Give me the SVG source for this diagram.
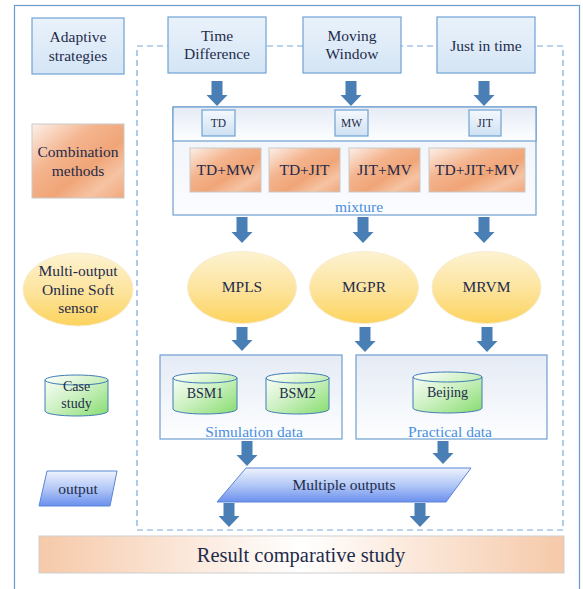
<svg xmlns="http://www.w3.org/2000/svg" width="583" height="589" viewBox="0 0 583 589">
  <defs>
    <linearGradient id="gBlue" x1="0" y1="0" x2="0" y2="1">
      <stop offset="0" stop-color="#eaf2fb"/>
      <stop offset="1" stop-color="#d4e5f5"/>
    </linearGradient>
    <linearGradient id="gTag" x1="0" y1="0" x2="0" y2="1">
      <stop offset="0" stop-color="#f4f8fd"/>
      <stop offset="1" stop-color="#cfe1f3"/>
    </linearGradient>
    <linearGradient id="gOrange" x1="0" y1="0" x2="1" y2="1">
      <stop offset="0" stop-color="#fcf0e8"/>
      <stop offset="0.35" stop-color="#f4b48e"/>
      <stop offset="0.6" stop-color="#f0a577"/>
      <stop offset="0.8" stop-color="#f6c3a3"/>
      <stop offset="1" stop-color="#f1a87c"/>
    </linearGradient>
    <linearGradient id="gYellow" x1="0" y1="0" x2="0" y2="1">
      <stop offset="0" stop-color="#fdf3d2"/>
      <stop offset="0.55" stop-color="#fde39a"/>
      <stop offset="1" stop-color="#fcd35c"/>
    </linearGradient>
    <linearGradient id="gGreen" x1="0" y1="0" x2="1" y2="1">
      <stop offset="0" stop-color="#ffffff"/>
      <stop offset="0.5" stop-color="#cbf0c0"/>
      <stop offset="1" stop-color="#86dc6e"/>
    </linearGradient>
    <linearGradient id="gPanel" x1="0" y1="0" x2="0" y2="1">
      <stop offset="0" stop-color="#e5ebf5"/>
      <stop offset="1" stop-color="#fdfeff"/>
    </linearGradient>
    <linearGradient id="gPanelLow" x1="0" y1="0" x2="0" y2="1">
      <stop offset="0" stop-color="#eef2f9"/>
      <stop offset="1" stop-color="#fbfcfe"/>
    </linearGradient>
    <linearGradient id="gPara" x1="0" y1="0" x2="0" y2="1">
      <stop offset="0" stop-color="#eef3fd"/>
      <stop offset="0.5" stop-color="#b3c8f6"/>
      <stop offset="1" stop-color="#6b90ee"/>
    </linearGradient>
    <linearGradient id="gResult" x1="0" y1="0" x2="1" y2="0">
      <stop offset="0" stop-color="#f6c9a9"/>
      <stop offset="0.5" stop-color="#ffffff"/>
      <stop offset="1" stop-color="#f6c9a9"/>
    </linearGradient>
    <style>
      text { font-family: "Liberation Serif", "Times New Roman", serif; fill: #1f2b4a; text-anchor: middle; }
      .blue { fill: url(#gBlue); stroke: #6ea2d4; stroke-width: 1.2; }
      .tag { fill: url(#gTag); stroke: #6ea2d4; stroke-width: 1.2; }
      .orange { fill: url(#gOrange); stroke: #c9c9c9; stroke-width: 1; }
      .yellow { fill: url(#gYellow); stroke: #f7ecd0; stroke-width: 1; }
      .cyl { fill: url(#gGreen); stroke: #3f7cb3; stroke-width: 1; }
      .panel { fill: url(#gPanel); stroke: #6f9fcf; stroke-width: 1.2; }
      .arrow { fill: #4a7fb5; }
      .lbl { fill: #4a8fe0; }
      .f15 { font-size: 15.5px; }
      .f14 { font-size: 14px; }
      .f11 { font-size: 11.5px; }
    </style>
  </defs>

  <rect width="583" height="589" fill="#ffffff"/>

  <!-- outer frame and dashed process boundary -->
  <rect x="14.5" y="5.5" width="565" height="600" fill="none" stroke="#6a9bd0" stroke-width="1.2"/>
  <rect x="137" y="46" width="426" height="484" fill="none" stroke="#7aa9d8" stroke-width="1.2" stroke-dasharray="6 4"/>

  <!-- left legend column -->
  <g id="adaptive-strategies">
    <rect class="blue" x="32" y="18" width="92" height="56"/>
    <text class="f15" x="78" y="42">Adaptive</text>
    <text class="f15" x="78" y="61">strategies</text>
  </g>
  <g id="combination-methods">
    <rect class="orange" x="32" y="124" width="92" height="74"/>
    <text class="f15" x="78" y="157">Combination</text>
    <text class="f15" x="78" y="176">methods</text>
  </g>
  <g id="multi-output-sensor">
    <ellipse class="yellow" cx="78" cy="289.5" rx="55" ry="36.5"/>
    <text class="f15" x="78" y="276">Multi-output</text>
    <text class="f15" x="78" y="295">Online Soft</text>
    <text class="f15" x="78" y="313">sensor</text>
  </g>
  <g id="case-study">
    <path class="cyl" d="M45 380 A31.5 5 0 0 1 108 380 L108 411 A31.5 5 0 0 1 45 411 Z"/>
    <path d="M45 380 A31.5 5 0 0 0 108 380" fill="none" stroke="#3f7cb3" stroke-width="1"/>
    <text class="f14" x="76.5" y="391">Case</text>
    <text class="f14" x="76.5" y="408">study</text>
  </g>
  <g id="output-legend">
    <polygon points="47,471 117,471 110,506 39,506" fill="url(#gPara)" stroke="#5b86d6" stroke-width="1"/>
    <text class="f15" x="78" y="494">output</text>
  </g>

  <!-- adaptive strategies -->
  <g id="time-difference">
    <rect class="blue" x="168" y="17" width="98" height="56"/>
    <text class="f15" x="217" y="41">Time</text>
    <text class="f15" x="217" y="59">Difference</text>
  </g>
  <g id="moving-window">
    <rect class="blue" x="303" y="17" width="98" height="56"/>
    <text class="f15" x="352" y="41">Moving</text>
    <text class="f15" x="352" y="59">Window</text>
  </g>
  <g id="just-in-time">
    <rect class="blue" x="437" y="17" width="98" height="56"/>
    <text class="f15" x="486" y="51">Just in time</text>
  </g>

  <!-- combination panel -->
  <g id="combination-panel">
    <rect x="173" y="107" width="363" height="108" fill="url(#gPanelLow)" stroke="#6f9fcf" stroke-width="1.2"/>
    <rect x="173" y="107" width="363" height="34" fill="url(#gPanel)" stroke="#6f9fcf" stroke-width="1.2"/>
    <text class="f15 lbl" x="359" y="212">mixture</text>
  </g>
  <g id="tag-td">
    <rect class="tag" x="202" y="110" width="33" height="26"/>
    <text class="f11" x="218.5" y="127">TD</text>
  </g>
  <g id="tag-mw">
    <rect class="tag" x="335" y="110" width="33" height="26"/>
    <text class="f11" x="351.5" y="127">MW</text>
  </g>
  <g id="tag-jit">
    <rect class="tag" x="469" y="110" width="32" height="26"/>
    <text class="f11" x="485" y="127">JIT</text>
  </g>
  <g id="td-mw">
    <rect class="orange" x="190" y="148" width="71" height="44"/>
    <text class="f15" x="225.5" y="175">TD+MW</text>
  </g>
  <g id="td-jit">
    <rect class="orange" x="269" y="148" width="71" height="44"/>
    <text class="f15" x="304.5" y="175">TD+JIT</text>
  </g>
  <g id="jit-mv">
    <rect class="orange" x="349" y="148" width="71" height="44"/>
    <text class="f15" x="384.5" y="175">JIT+MV</text>
  </g>
  <g id="td-jit-mv">
    <rect class="orange" x="429" y="148" width="96" height="44"/>
    <text class="f15" x="477" y="175">TD+JIT+MV</text>
  </g>

  <!-- soft sensor models -->
  <g id="mpls">
    <ellipse class="yellow" cx="242" cy="287.5" rx="54.5" ry="36"/>
    <text class="f15" x="242" y="292">MPLS</text>
  </g>
  <g id="mgpr">
    <ellipse class="yellow" cx="364" cy="287.5" rx="54.5" ry="36"/>
    <text class="f15" x="364" y="292">MGPR</text>
  </g>
  <g id="mrvm">
    <ellipse class="yellow" cx="486.5" cy="287.5" rx="54.5" ry="36"/>
    <text class="f15" x="486.5" y="292">MRVM</text>
  </g>

  <!-- data sets -->
  <g id="simulation-data">
    <rect class="panel" x="160" y="355" width="182" height="84"/>
    <text class="f15 lbl" x="254" y="437">Simulation data</text>
  </g>
  <g id="bsm1">
    <path class="cyl" d="M173 378 A32 5 0 0 1 237 378 L237 409 A32 5 0 0 1 173 409 Z"/>
    <path d="M173 378 A32 5 0 0 0 237 378" fill="none" stroke="#3f7cb3" stroke-width="1"/>
    <text class="f14" x="205" y="398">BSM1</text>
  </g>
  <g id="bsm2">
    <path class="cyl" d="M266 378 A31.5 5 0 0 1 329 378 L329 409 A31.5 5 0 0 1 266 409 Z"/>
    <path d="M266 378 A31.5 5 0 0 0 329 378" fill="none" stroke="#3f7cb3" stroke-width="1"/>
    <text class="f14" x="297.5" y="398">BSM2</text>
  </g>
  <g id="practical-data">
    <rect class="panel" x="356" y="355" width="191" height="84"/>
    <text class="f15 lbl" x="450" y="437">Practical data</text>
  </g>
  <g id="beijing">
    <path class="cyl" d="M413 377 A34.5 5 0 0 1 482 377 L482 408 A34.5 5 0 0 1 413 408 Z"/>
    <path d="M413 377 A34.5 5 0 0 0 482 377" fill="none" stroke="#3f7cb3" stroke-width="1"/>
    <text class="f14" x="447.5" y="397">Beijing</text>
  </g>

  <!-- outputs and result -->
  <g id="multiple-outputs">
    <polygon points="246,468 471,468 446,502 217,502" fill="url(#gPara)" stroke="#5b86d6" stroke-width="1"/>
    <text class="f15" x="344" y="490">Multiple outputs</text>
  </g>
  <g id="result-study">
    <rect x="39" y="536" width="525" height="37" fill="url(#gResult)" stroke="#cfcfcf" stroke-width="1"/>
    <text x="301" y="562" font-size="20.5">Result comparative study</text>
  </g>

  <!-- connectors: block arrows -->
  <g id="connectors">
    <path class="arrow" d="M211.5 81 h11 v14 h5 l-10.5 11 l-10.5 -11 h5 z"/>
    <path class="arrow" d="M345.5 81 h11 v14 h5 l-10.5 11 l-10.5 -11 h5 z"/>
    <path class="arrow" d="M478.5 81 h11 v14 h5 l-10.5 11 l-10.5 -11 h5 z"/>
    <path class="arrow" d="M236.5 217 h11 v15 h5 l-10.5 11 l-10.5 -11 h5 z"/>
    <path class="arrow" d="M357.5 217 h11 v15 h5 l-10.5 11 l-10.5 -11 h5 z"/>
    <path class="arrow" d="M478.5 217 h11 v15 h5 l-10.5 11 l-10.5 -11 h5 z"/>
    <path class="arrow" d="M236.5 327 h11 v13 h5 l-10.5 11 l-10.5 -11 h5 z"/>
    <path class="arrow" d="M359.5 327 h11 v14 h5 l-10.5 11 l-10.5 -11 h5 z"/>
    <path class="arrow" d="M481.5 327 h11 v14 h5 l-10.5 11 l-10.5 -11 h5 z"/>
    <path class="arrow" d="M241.5 441 h11 v14 h5 l-10.5 11 l-10.5 -11 h5 z"/>
    <path class="arrow" d="M437.5 441 h11 v12 h5 l-10.5 11 l-10.5 -11 h5 z"/>
    <path class="arrow" d="M223.5 503 h11 v13 h5 l-10.5 11 l-10.5 -11 h5 z"/>
    <path class="arrow" d="M414.5 503 h11 v13 h5 l-10.5 11 l-10.5 -11 h5 z"/>
  </g>
</svg>
